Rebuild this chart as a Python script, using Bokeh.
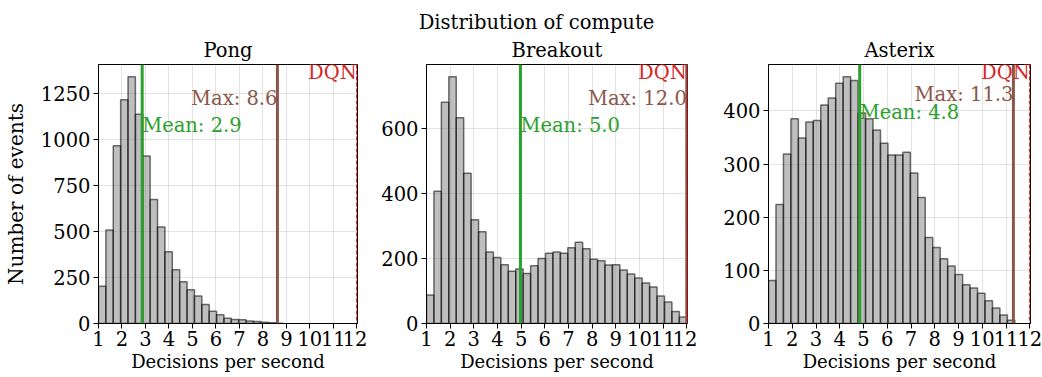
import numpy as np
from bokeh.plotting import figure
from bokeh.layouts import row, column
from bokeh.models import Range1d, Span, Label, FixedTicker
from bokeh.core.properties import value
from bokeh.embed import file_html
from bokeh.resources import INLINE

# ---------------- data ----------------
games = ["Pong", "Breakout", "Asterix"]
bin_lo = 1.0
bin_hi = 12.0
n_bins = 35

pong_counts = [202, 509, 967, 1218, 1342, 1138, 911, 675, 525, 390, 292, 227, 184,
               150, 103, 67, 47, 29, 22, 20, 13, 11, 7, 4, 1]
breakout_counts = [88, 407, 681, 759, 633, 462, 319, 282, 220, 203, 181, 161, 168,
                   154, 178, 200, 216, 220, 216, 233, 250, 230, 198, 193, 180, 181,
                   165, 152, 140, 125, 112, 85, 66, 37, 20]
asterix_counts = [81, 224, 319, 385, 349, 379, 382, 411, 424, 452, 464, 457, 396,
                  385, 364, 339, 317, 317, 322, 283, 237, 162, 143, 122, 108, 92,
                  73, 67, 57, 43, 29, 16, 6]

mean_dps = [2.86, 4.97, 4.84]
max_dps = [8.62, 12.0, 11.31]
dqn_dps = 12.0

x_ticks = list(range(1, 13))
pong_yticks = [0, 250, 500, 750, 1000, 1250]
breakout_yticks = [0, 200, 400, 600]
asterix_yticks = [0, 100, 200, 300, 400]

suptitle = "Distribution of compute"
x_label = "Decisions per second"
y_label = "Number of events"

# ---------------- style ----------------
FONT = "DejaVu Serif"
TICK_FS = "19.5px"
YLABEL_FS = "20px"
XLABEL_FS = "18px"
ANN_FS = "19.5px"
TITLE_FS = "19.5px"
GREEN = "#2ca02c"
BROWN = "#8c564b"
RED = "#d62728"
HEADER_H = 34
FRAME_H = 260
TOP = 29
BOTTOM = 54
X_START, X_END = 1.0, 12.03

# per panel: (frame width, left border, right border, max-text frac, mean-text frac)
panels = [
    (262, 95, 10, 0.870, 0.766),
    (261, 59, 10, 0.870, 0.766),
    (262, 71, 12, 0.884, 0.815),
]
DQN_FRAC = 0.970

all_counts = [pong_counts, breakout_counts, asterix_counts]
all_yticks = [pong_yticks, breakout_yticks, asterix_yticks]
edges = np.linspace(bin_lo, bin_hi, n_bins + 1)

figs = []
for i, game in enumerate(games):
    counts = all_counts[i]
    fw, lb, rb, max_frac, mean_frac = panels[i]
    ymax = max(counts) * 1.05
    p = figure(width=lb + fw + rb, height=TOP + FRAME_H + BOTTOM,
               min_border_left=lb, min_border_right=rb,
               min_border_top=TOP, min_border_bottom=BOTTOM,
               x_range=Range1d(X_START, X_END), y_range=Range1d(0, ymax),
               output_backend="svg", toolbar_location=None, title=game)
    p.title.text_font = FONT
    p.title.text_font_size = TITLE_FS
    p.title.text_font_style = "normal"
    p.title.align = "center"
    p.title.text_color = "black"
    p.title.standoff = 5

    k = len(counts)
    p.quad(left=edges[:k], right=edges[1:k + 1], bottom=0, top=counts,
           fill_color="gray", fill_alpha=0.5, line_color="black",
           line_alpha=0.55, line_width=1.5)

    p.add_layout(Span(location=mean_dps[i], dimension="height",
                      line_color=GREEN, line_width=3))
    p.add_layout(Span(location=max_dps[i], dimension="height",
                      line_color=BROWN, line_width=3))
    p.add_layout(Span(location=dqn_dps, dimension="height",
                      line_color=RED, line_width=1.5, line_dash="4 2"))

    p.add_layout(Label(x=dqn_dps, y=DQN_FRAC * ymax, text="DQN",
                       text_align="right", text_baseline="alphabetic",
                       text_color=RED, text_font=FONT, text_font_size=ANN_FS))
    p.add_layout(Label(x=max_dps[i], y=max_frac * ymax, text=f"Max: {max_dps[i]:.1f}",
                       text_align="right", text_baseline="alphabetic",
                       text_color=BROWN, text_font=FONT, text_font_size=ANN_FS))
    p.add_layout(Label(x=mean_dps[i], y=mean_frac * ymax, text=f"Mean: {mean_dps[i]:.1f}",
                       text_align="left", text_baseline="alphabetic",
                       text_color=GREEN, text_font=FONT, text_font_size=ANN_FS))

    p.xaxis.ticker = FixedTicker(ticks=x_ticks)
    p.yaxis.ticker = FixedTicker(ticks=all_yticks[i])
    p.xgrid.ticker = FixedTicker(ticks=x_ticks)
    p.ygrid.ticker = FixedTicker(ticks=all_yticks[i])
    p.grid.grid_line_color = "#b0b0b0"
    p.grid.grid_line_alpha = 0.35
    p.grid.grid_line_width = 1
    for ax in (p.xaxis[0], p.yaxis[0]):
        ax.major_label_text_font = FONT
        ax.major_label_text_font_size = TICK_FS
        ax.major_label_text_color = "black"
        ax.major_tick_out = 5
        ax.major_tick_in = 0
        ax.major_tick_line_color = "black"
        ax.minor_tick_line_color = None
        ax.axis_line_color = "black"
    p.xaxis.major_label_standoff = 2
    p.yaxis.major_label_standoff = 3

    p.xaxis.axis_label = x_label
    p.xaxis.axis_label_text_font = FONT
    p.xaxis.axis_label_text_font_size = XLABEL_FS
    p.xaxis.axis_label_text_font_style = "normal"
    p.xaxis.axis_label_text_color = "black"
    p.xaxis.axis_label_standoff = 2
    if i == 0:
        p.yaxis.axis_label = y_label
        p.yaxis.axis_label_text_font = FONT
        p.yaxis.axis_label_text_font_size = YLABEL_FS
        p.yaxis.axis_label_text_font_style = "normal"
        p.yaxis.axis_label_text_color = "black"
        p.yaxis.axis_label_standoff = 10
    p.outline_line_color = "black"
    p.outline_line_alpha = 1
    p.outline_line_width = 1
    figs.append(p)

total_w = sum(lb + fw + rb for fw, lb, rb, _, _ in panels)
header = figure(width=total_w, height=HEADER_H, title=None,
                x_range=Range1d(0, total_w), y_range=Range1d(0, HEADER_H),
                x_axis_type=None, y_axis_type=None, min_border=0,
                output_backend="svg", toolbar_location=None)
header.outline_line_color = None
header.grid.visible = False
header.text(x=[536], y=[12], text=[suptitle], text_align="center",
            text_baseline="alphabetic", text_font=value(FONT),
            text_font_size=TITLE_FS, text_color="black")

layout = column(header, row(*figs))
open("out.html", "w").write(file_html(layout, INLINE))
